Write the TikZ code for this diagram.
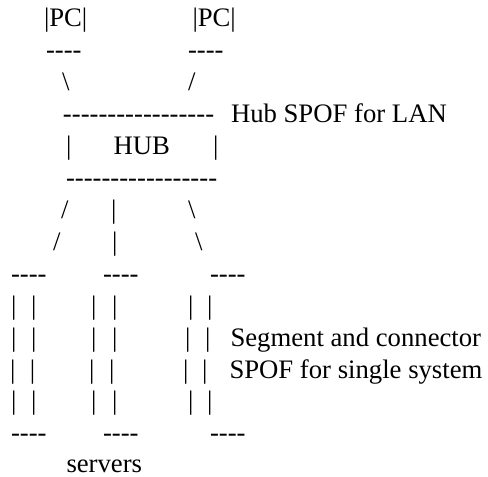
\documentclass[tikz,border=0pt]{standalone}
\usepackage{fontspec}
\setmainfont{Liberation Serif}[Ligatures=TeXOff]
\begin{document}
\begin{tikzpicture}[x=1pt,y=-1pt,
  t/.style={anchor=base west, inner sep=0pt, outer sep=0pt, font=\fontsize{26.7}{32}\selectfont}]
\useasboundingbox (0,0) rectangle (488,477);
% row 0
\node[t] (pc1) at (44,26.5) {|PC|};
\node[t] (pc2) at (192.5,26.5) {|PC|};
% row 1
\node[t] (pc1b) at (46,58.5) {----};
\node[t] (pc2b) at (188,58.5) {----};
% row 2
\node[t] (l1) at (62,90.4) {\textbackslash};
\node[t] (l2) at (188,90.4) {/};
% row 3
\node[t] (hubtop) at (63,122.4) {-----------------};
\node[t] (hubnote) at (231,122.4) {Hub SPOF for LAN};
% row 4
\node[t] (hubl) at (66,154.3) {|};
\node[t] (hub) at (113.5,154.3) {HUB};
\node[t] (hubr) at (213,154.3) {|};
% row 5
\node[t] (hubbot) at (66,186.3) {-----------------};
% row 6
\node[t] (a1) at (61,218.2) {/};
\node[t] (a2) at (111,218.2) {|};
\node[t] (a3) at (188,218.2) {\textbackslash};
% row 7
\node[t] (b1) at (53,250.2) {/};
\node[t] (b2) at (112,250.2) {|};
\node[t] (b3) at (195,250.2) {\textbackslash};
% row 8
\node[t] (s1t) at (11,282.1) {----};
\node[t] (s2t) at (103,282.1) {----};
\node[t] (s3t) at (210,282.1) {----};
% rows 9-12
\foreach \y/\xa/\xb/\xc/\xd/\xe/\xf/\n in {
  314.1/11/31/91/112/188/207/r9,
  346/11/31/91/112/185/205/r10,
  378/10/30/89/109/183/202/r11,
  409.9/11/31/91/112/188/207/r12}{
  \node[t] (\n a) at (\xa,\y) {|};
  \node[t] (\n b) at (\xb,\y) {|};
  \node[t] (\n c) at (\xc,\y) {|};
  \node[t] (\n d) at (\xd,\y) {|};
  \node[t] (\n e) at (\xe,\y) {|};
  \node[t] (\n f) at (\xf,\y) {|};
}
\node[t] (seg1) at (230.5,346) {Segment and connector};
\node[t] (seg2) at (229.5,378) {SPOF for single system};
% row 13
\node[t] (s1b) at (11,441.9) {----};
\node[t] (s2b) at (103,441.9) {----};
\node[t] (s3b) at (210,441.9) {----};
% row 14
\node[t] (servers) at (66.5,472) {servers};
\end{tikzpicture}
\end{document}
